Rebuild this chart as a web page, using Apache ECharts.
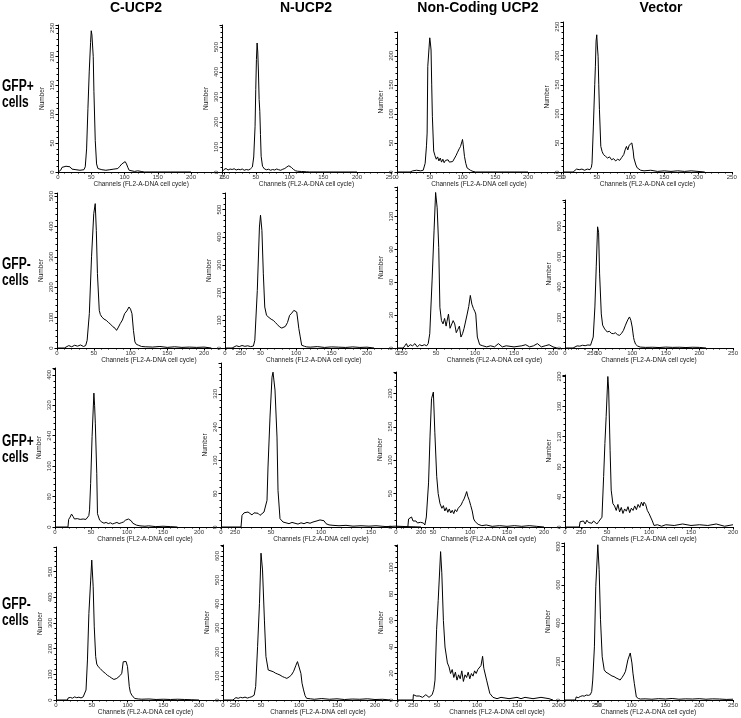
<!DOCTYPE html>
<html>
<head>
<meta charset="utf-8">
<title>UCP2 cell cycle histograms</title>
<script src="https://cdn.jsdelivr.net/npm/echarts@6/dist/echarts.min.js"></script>
<style>
  html, body { margin: 0; padding: 0; background: #fff; }
  #chart { width: 741px; height: 718px; }
</style>
</head>
<body>
<div id="chart"></div>
<script>
// titles
var colTitles = ['C-UCP2', 'N-UCP2', 'Non-Coding UCP2', 'Vector'];
var rowTitles = ['GFP+\ncells', 'GFP-\ncells', 'GFP+\ncells', 'GFP-\ncells'];
var xTitle = 'Channels (FL2-A-DNA cell cycle)';
var yTitle = 'Number';

// histograms: [channel, number of cells]
// row 1 - GFP+
var posC1 = [[0,0],[4,3],[6,8],[9,6],[12,10],[15,7],[18,9],[21,5],[24,8],[27,4],[30,6],[33,3],[36,5],[39,4],[41,9],[43,40],[45,110],[47,175],[49,225],[50,245],[51,238],[53,200],[54,140],[56,55],[58,14],[60,6],[63,8],[66,4],[69,7],[72,3],[75,6],[78,4],[81,7],[84,5],[87,8],[90,6],[93,10],[96,14],[99,17],[101,18],[103,14],[105,8],[107,3],[110,2],[115,1],[120,2],[125,1],[130,0],[200,0]];
var posN1 = [[0,0],[3,10],[6,14],[9,8],[12,12],[15,10],[18,13],[21,8],[24,11],[27,9],[30,12],[33,7],[36,10],[39,8],[42,12],[45,20],[47,60],[49,183],[50,330],[51,450],[52,516],[53,480],[54,400],[55,290],[56,243],[57,150],[58,63],[60,23],[63,12],[66,9],[69,11],[72,7],[75,10],[78,8],[81,12],[84,9],[87,7],[90,11],[93,14],[96,20],[99,25],[101,24],[103,18],[106,10],[109,5],[112,3],[118,2],[125,1],[130,0],[200,0]];
var posNC1 = [[0,0],[20,0],[24,2],[27,4],[30,3],[33,5],[36,2],[38,4],[40,3],[42,6],[43,15],[45,45],[46,67],[47,182],[49,215],[50,231],[51,222],[52,210],[53,150],[54,96],[56,36],[58,28],[60,22],[62,26],[64,19],[66,24],[68,17],[70,22],[72,16],[74,20],[76,18],[78,21],[80,17],[82,20],[85,18],[88,24],[90,28],[92,33],[95,40],[97,44],[99,52],[100,56],[101,48],[103,27],[105,15],[107,7],[110,4],[112,3],[116,1],[120,0],[200,0]];
var posV1 = [[0,0],[15,0],[16,3],[20,5],[24,4],[28,5],[32,3],[36,5],[40,4],[42,8],[43,15],[45,79],[47,150],[48,182],[49,225],[50,236],[51,215],[52,199],[53,150],[54,107],[56,44],[58,35],[60,30],[63,27],[66,24],[69,26],[72,21],[75,23],[78,19],[81,22],[84,20],[87,25],[90,30],[92,38],[94,44],[96,38],[98,46],[100,48],[102,50],[104,36],[105,24],[108,12],[110,7],[115,3],[120,2],[130,3],[140,1],[150,2],[160,1],[170,2],[180,1],[190,2],[200,1],[210,0]];

// row 2 - GFP-
var negC2 = [[0,0],[10,0],[12,5],[16,8],[20,4],[24,9],[28,6],[32,10],[36,5],[39,8],[41,25],[44,113],[47,300],[50,442],[52,475],[53.5,387],[55,245],[57.5,124],[59,110],[61,102],[64,95],[67,91],[70,84],[73,78],[76,70],[79,65],[81,58],[83,66],[86,80],[89,92],[92,113],[95,122],[98,135],[100,128],[102,113],[104,58],[106,20],[108,12],[111,9],[115,5],[120,4],[130,3],[140,5],[150,2],[160,4],[170,2],[180,3],[190,2],[200,3],[210,0]];
var negN2 = [[0,0],[10,0],[12,6],[16,8],[20,5],[24,9],[28,6],[32,8],[36,5],[40,7],[42,28],[45.5,208],[48.5,437],[50,480],[52,425],[54,268],[56,148],[58.5,118],[62,110],[65,104],[68,100],[71,92],[74,84],[77,76],[80,72],[82,70],[85,78],[88,92],[91,118],[94,126],[97,136],[99,142],[101,130],[102,112],[104,70],[106,40],[108,10],[112,6],[115,4],[120,3],[130,5],[140,2],[150,4],[160,3],[170,2],[180,4],[190,2],[200,3],[210,0]];
var negNC2 = [[0,0],[8,0],[10,2],[12,4],[14,1],[17,3],[20,2],[23,4],[26,1],[29,3],[32,2],[35,3],[38,2],[40,4],[42,13],[45,62],[47.5,107],[49.5,142],[51.5,128],[53.5,92],[55,37],[57,25],[59,22],[61,27],[63,20],[64,24],[66,31],[68,18],[70,19],[72,25],[74,22],[76,14],[78,17],[80,20],[82,10],[84,13],[86,18],[88,19],[90,31],[92,38],[94,48],[96,40],[98,36],[100,33],[101,31],[103,10],[106,3],[110,2],[115,1],[120,2],[125,1],[130,4],[135,1],[140,2],[150,1],[160,2],[165,3],[170,1],[175,2],[180,4],[185,1],[190,2],[195,3],[200,1],[205,0]];
var negV2 = [[0,0],[12,0],[14,10],[18,14],[22,12],[26,18],[30,15],[34,20],[38,18],[40,25],[42,72],[44.5,270],[46.5,533],[48.5,796],[50,760],[51.5,487],[54,224],[56,150],[59,125],[63,105],[66,110],[69,96],[72,94],[75,100],[78,88],[81,83],[84,95],[87,116],[90,150],[92,171],[94,190],[96,204],[98,182],[100,138],[102,70],[103,50],[105,25],[108,13],[112,6],[120,4],[130,5],[140,3],[150,6],[160,4],[170,5],[180,3],[190,5],[200,4],[210,0]];

// row 3 - GFP+
var posC3 = [[0,0],[18,0],[19,20],[21,26],[23,34],[25,28],[27,21],[29,18],[31,22],[33,17],[35,20],[37,16],[39,21],[41,18],[43,20],[45,17],[47,30],[48,45],[49.5,114],[51.5,238],[54,352],[55,320],[56,273],[58,141],[59,35],[62,18],[65,13],[68,10],[71,12],[74,9],[77,11],[80,8],[83,10],[86,12],[89,9],[92,11],[95,13],[98,18],[100,17],[102,21],[104,26],[106,16],[108,10],[110,7],[113,5],[118,3],[125,2],[130,3],[140,1],[150,2],[160,1],[170,0]];
var posN3 = [[0,0],[20,0],[21,28],[23,34],[25,30],[27,36],[29,32],[31,29],[33,34],[35,30],[37,33],[39,28],[41,31],[43,36],[45,40],[46,64],[47,144],[49,264],[51,360],[52,372],[54,329],[56,216],[57,88],[59,20],[62,12],[65,10],[68,8],[71,11],[74,9],[77,7],[80,10],[83,8],[86,11],[89,9],[92,12],[95,14],[97,18],[99,17],[101,19],[103,15],[105,8],[108,5],[112,4],[118,3],[125,4],[132,2],[140,3],[148,2],[155,3],[165,1],[175,2],[185,1],[200,0]];
var posNC3 = [[0,0],[16,0],[17,12],[19,10],[21,15],[23,9],[25,7],[27,9],[29,6],[31,8],[33,7],[35,9],[37,6],[39,3],[41,15],[44,66],[46,136],[48,192],[50.5,202],[52.5,141],[55,76],[57,50],[59.5,35],[62,28],[64,32],[66,24],[68,29],[70,22],[72,27],[74,21],[76,25],[78,20],[80,26],[82,23],[84,28],[86,30],[88,33],[90,38],[92,42],[94,48],[95.5,53],[97,46],[99,40],[101,32],[103,24],[105,12],[107,8],[111,4],[116,2],[122,3],[130,1],[140,2],[150,1],[160,2],[170,1],[180,2],[190,1],[200,0]];
var posV3 = [[0,0],[17,0],[18,7],[20,5],[22,8],[24,4],[26,9],[28,6],[30,7],[32,5],[34,8],[36,6],[38,4],[40,7],[42,8],[44,13],[46,67],[47.5,111],[49,147],[51,200],[52,182],[53.7,102],[55,49],[57,31],[59,28],[61,22],[63,30],[65,20],[67,26],[69,18],[71,24],[73,21],[75,27],[77,19],[79,25],[81,22],[83,28],[85,23],[87,30],[89,26],[91,33],[93,28],[94,33],[96,30],[98,22],[100,18],[102,16],[104,8],[106,2],[110,3],[115,1],[120,3],[130,2],[140,4],[150,2],[160,3],[170,2],[180,4],[190,1],[200,3]];

// row 4 - GFP-
var negC4 = [[0,0],[16,0],[17,8],[20,10],[23,7],[26,12],[29,9],[32,11],[35,8],[38,12],[40,15],[42,39],[44,156],[46,337],[48.5,467],[50,545],[52,441],[53.5,285],[55.5,169],[57,140],[59,130],[62,122],[66,110],[69,104],[72,96],[75,91],[78,85],[81,80],[83,78],[85,84],[87,88],[90,96],[92,104],[94,149],[96.5,156],[98,150],[100,130],[102.5,52],[104,30],[106,19],[110,6],[115,4],[120,3],[130,4],[140,2],[150,3],[160,2],[170,3],[180,2],[190,1],[200,0]];
var negN4 = [[0,0],[13,0],[14,8],[17,10],[20,7],[23,11],[26,9],[29,12],[32,8],[35,11],[38,14],[41,20],[43,56],[45.5,222],[48,403],[50,612],[52,542],[54.5,333],[56.5,181],[59.5,125],[62,120],[66,118],[69,112],[72,108],[75,104],[78,98],[81,94],[84,90],[87,96],[90,104],[93,120],[96,145],[98,160],[100,167],[102.5,111],[104,70],[106,42],[108,18],[110,7],[115,5],[120,3],[130,6],[140,3],[150,5],[160,2],[170,4],[180,3],[190,5],[200,2],[210,3],[220,0]];
var negNC4 = [[0,0],[20,0],[20.5,4],[22,5],[24,3],[26,4],[28,3],[30,4],[32,2],[34,3],[36,4],[38,3],[40,2],[42,3],[44,4],[46,8],[47.5,15],[49.5,53],[51.5,75],[54.5,112],[56,96],[58,60],[60,40],[63,28],[65,25],[67,20],[69,23],[71,17],[73,21],[75,15],[77,19],[79,16],[81,22],[83,14],[85,19],[87,17],[89,21],[91,16],[93,20],[95,18],[97,22],[99,20],[101,23],[103,22],[105,26],[107,33],[108.5,24],[110,23],[112,15],[116,5],[120,2],[125,1],[130,2],[140,1],[150,2],[155,1],[160,2],[170,1],[180,2],[190,1],[195,0]];
var negV4 = [[0,0],[17,0],[18,16],[21,12],[24,18],[27,22],[30,20],[33,26],[36,24],[39,28],[41,45],[42.5,104],[45,277],[47,590],[50,809],[52,679],[54,418],[56.5,225],[59.5,157],[62,145],[65,139],[68,132],[71,125],[74,122],[77,115],[80,110],[83,104],[86,118],[89,135],[91,150],[94.5,209],[98,245],[100.5,193],[102,140],[104,87],[107,16],[110,8],[113,5],[120,6],[130,4],[140,7],[150,5],[160,8],[170,4],[180,6],[190,5],[200,7],[210,4],[220,6],[230,5],[240,3],[250,4]];

var panels = [
  [posC1, posN1, posNC1, posV1],
  [negC2, negN2, negNC2, negV2],
  [posC3, posN3, posNC3, posV3],
  [negC4, negN4, negNC4, negV4]
];

// axis scales
var yMax = [[255, 588, 241, 258], [510, 560, 147, 972], [418, 394, 232, 202], [596, 646, 117, 818]];
var yStep = [[50, 100, 50, 50], [100, 100, 30, 200], [80, 80, 50, 40], [100, 100, 20, 200]];
var xMax = [[250, 250, 250, 250], [250, 250, 250, 250], [250, 200, 250, 200], [250, 250, 250, 250]];

// layout (pixels)
var plotLeft = [[58, 222, 397, 563], [57, 225, 397, 565], [55, 221, 396, 565], [56, 223, 397, 564]];
var pxPerChannel = [[0.665, 0.675, 0.655, 0.675], [0.735, 0.71, 0.78, 0.71], [0.72, 1.0, 0.74, 0.85], [0.715, 0.76, 0.8, 0.715]];
var plotTop = [[25, 25, 32, 22], [193, 193, 187, 200], [368, 363, 372, 375], [547, 545, 545, 543]];
var baseY = [172, 348, 527, 700];
var colCenter = [136, 306, 478, 661];
var rowTop = [79, 257, 434, 597];

var FONT = '"Liberation Sans", Arial, sans-serif';

var grids = [], xAxes = [], yAxes = [], series = [];
for (var r = 0; r < 4; r++) {
  for (var c = 0; c < 4; c++) {
    var i = grids.length;
    grids.push({
      left: plotLeft[r][c],
      top: plotTop[r][c],
      width: xMax[r][c] * pxPerChannel[r][c],
      height: baseY[r] - plotTop[r][c]
    });
    xAxes.push({
      gridIndex: i, type: 'value', min: 0, max: xMax[r][c], interval: 50,
      name: xTitle, nameLocation: 'middle', nameGap: 9,
      nameTextStyle: { fontSize: 6.5, color: '#222', fontFamily: FONT },
      axisLine: { lineStyle: { color: '#000', width: 1 } },
      axisTick: { length: 2.5, lineStyle: { color: '#000' } },
      minorTick: { show: true, splitNumber: 5, length: 1.5, lineStyle: { color: '#000' } },
      axisLabel: { fontSize: 6, color: '#333', margin: 2, fontFamily: FONT },
      splitLine: { show: false }
    });
    yAxes.push({
      gridIndex: i, type: 'value', min: 0, max: yMax[r][c], interval: yStep[r][c],
      name: yTitle, nameLocation: 'middle', nameGap: 12,
      nameTextStyle: { fontSize: 6.5, color: '#222', fontFamily: FONT },
      axisLine: { show: true, lineStyle: { color: '#000', width: 1 } },
      axisTick: { show: true, length: 2.5, lineStyle: { color: '#000' } },
      minorTick: { show: true, splitNumber: 5, length: 1.5, lineStyle: { color: '#000' } },
      axisLabel: { fontSize: 6, color: '#333', margin: 3, rotate: 90, showMaxLabel: false, fontFamily: FONT },
      splitLine: { show: false }
    });
    series.push({
      type: 'line', xAxisIndex: i, yAxisIndex: i,
      data: panels[r][c],
      symbol: 'none',
      lineStyle: { color: '#000', width: 1 }
    });
  }
}

var graphics = [];
colTitles.forEach(function (t, k) {
  graphics.push({
    type: 'text', x: colCenter[k], y: 8,
    style: { text: t, fill: '#000', fontSize: 14, fontWeight: 'bold', fontFamily: FONT, align: 'center', verticalAlign: 'middle' }
  });
});
rowTitles.forEach(function (t, k) {
  graphics.push({
    type: 'text', x: 2, y: rowTop[k], scaleX: 0.75,
    style: { text: t, fill: '#000', fontSize: 16, lineHeight: 15.5, fontWeight: 'bold', fontFamily: FONT, align: 'left', verticalAlign: 'top' }
  });
});

var chart = echarts.init(document.getElementById('chart'), null, { renderer: 'canvas' });
chart.setOption({
  animation: false,
  backgroundColor: '#fff',
  grid: grids,
  xAxis: xAxes,
  yAxis: yAxes,
  series: series,
  graphic: graphics
});
</script>
</body>
</html>
